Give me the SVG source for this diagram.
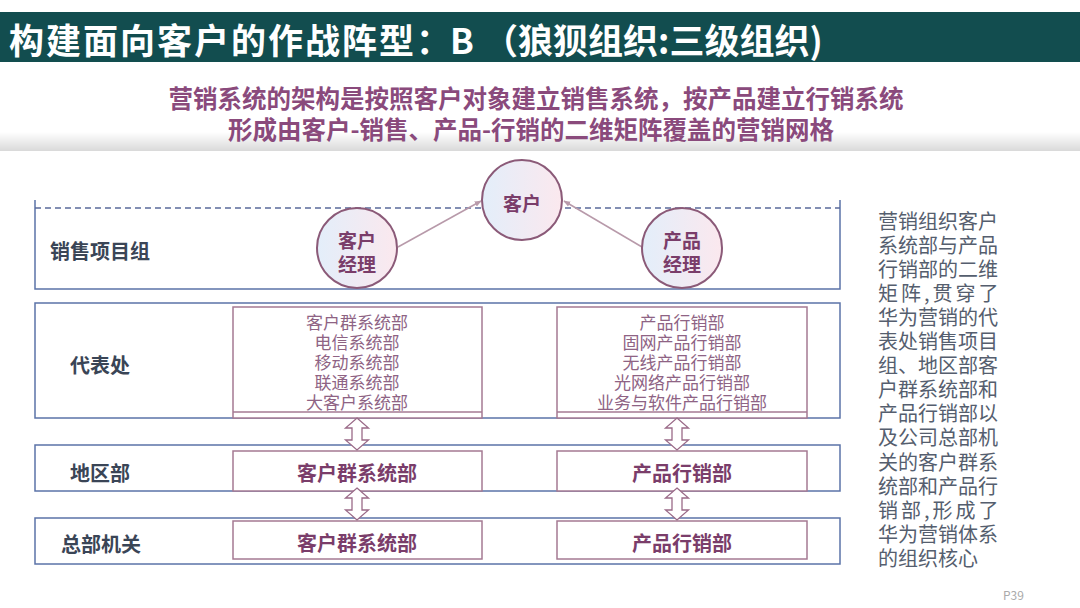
<svg xmlns="http://www.w3.org/2000/svg" width="1080" height="608" viewBox="0 0 1080 608">
<defs>
<linearGradient id="circ" x1="0" y1="0" x2="1" y2="0">
<stop offset="0" stop-color="#e3eefa"/>
<stop offset="1" stop-color="#fbe8ee"/>
</linearGradient>
<linearGradient id="shade" x1="0" y1="0" x2="0" y2="1">
<stop offset="0" stop-color="#ffffff"/>
<stop offset="1" stop-color="#d9d9d9"/>
</linearGradient>
<marker id="ah" viewBox="0 0 10 10" refX="9" refY="5" markerWidth="7" markerHeight="7" orient="auto" markerUnits="userSpaceOnUse">
<path d="M0,1 L10,5 L0,9 Z" fill="#b89aaa"/>
</marker>
<style>
text{font-family:"Noto Sans CJK SC","Noto Sans",sans-serif;dominant-baseline:central}
.title{fill:#ffffff;font-size:35px;font-weight:bold}
.sub{fill:#8a4a7c;font-size:24.5px;font-weight:bold;text-anchor:middle}
.row{fill:none;stroke:#5b73a8;stroke-width:1.5}
.inner{fill:#ffffff;stroke:#a57a93;stroke-width:1.5}
.lab{fill:#3a4556;font-size:20px;font-weight:bold}
.lst{fill:#8e6384;font-size:17px;text-anchor:middle}
.bt{fill:#7a3d6a;font-size:20px;font-weight:bold;text-anchor:middle}
.circ{fill:url(#circ);stroke:#8b5a78;stroke-width:2}
.ct{fill:#7a3d6a;font-size:19px;font-weight:bold;text-anchor:middle}
.dbl{fill:#ffffff;stroke:#9a6a88;stroke-width:1.3}
.link{stroke:#b89aaa;stroke-width:1.5;fill:none;marker-end:url(#ah)}
.para{fill:#555e6e;font-size:20px}
</style>
</defs>
<rect x="0" y="0" width="1080" height="608" fill="#ffffff"/>
<g id="title">
<rect x="0" y="12" width="1080" height="50" fill="#124d4f"/>
<text class="title" y="38"><tspan x="9" letter-spacing="2">构建面向客户的作战阵型</tspan><tspan x="416">：</tspan><tspan x="450">B</tspan><tspan x="483">（狼狈组织:三级组织)</tspan></text>
</g>
<g id="subtitle">
<rect x="0" y="132" width="1080" height="19" fill="url(#shade)"/>
<text class="sub" x="536" y="97">营销系统的架构是按照客户对象建立销售系统，按产品建立行销系统</text>
<text class="sub" x="531" y="128">形成由客户-销售、产品-行销的二维矩阵覆盖的营销网格</text>
</g>
<g id="row-sales">
<path class="row" d="M35,200 V289 H840 V200"/>
<line x1="35" y1="208" x2="840" y2="208" stroke="#5a6a9a" stroke-width="1.3" stroke-dasharray="6 4"/>
<text class="lab" x="50" y="250">销售项目组</text>
</g>
<g id="row-office">
<rect class="row" x="35" y="303" width="805" height="115"/>
<text class="lab" x="70" y="364">代表处</text>
</g>
<g id="office-customer">
<rect class="inner" x="233" y="307" width="249" height="111"/>
<line x1="233" y1="412" x2="482" y2="412" stroke="#a57a93" stroke-width="1.3"/>
<text class="lst"><tspan x="357" y="321">客户群系统部</tspan><tspan x="357" y="341">电信系统部</tspan><tspan x="357" y="361">移动系统部</tspan><tspan x="357" y="381">联通系统部</tspan><tspan x="357" y="401">大客户系统部</tspan></text>
</g>
<g id="office-product">
<rect class="inner" x="557" y="307" width="250" height="111"/>
<line x1="557" y1="412" x2="807" y2="412" stroke="#a57a93" stroke-width="1.3"/>
<text class="lst"><tspan x="682" y="321">产品行销部</tspan><tspan x="682" y="341">固网产品行销部</tspan><tspan x="682" y="361">无线产品行销部</tspan><tspan x="682" y="381">光网络产品行销部</tspan><tspan x="682" y="401">业务与软件产品行销部</tspan></text>
</g>
<g id="row-region">
<rect class="row" x="35" y="445" width="805" height="46"/>
<text class="lab" x="70" y="472">地区部</text>
</g>
<g id="region-customer">
<rect class="inner" x="233" y="451" width="249" height="40"/>
<text class="bt" x="357" y="472">客户群系统部</text>
</g>
<g id="region-product">
<rect class="inner" x="557" y="451" width="250" height="40"/>
<text class="bt" x="682" y="472">产品行销部</text>
</g>
<g id="row-hq">
<rect class="row" x="35" y="518" width="805" height="46"/>
<text class="lab" x="61" y="543">总部机关</text>
</g>
<g id="hq-customer">
<rect class="inner" x="233" y="521" width="249" height="38"/>
<text class="bt" x="357" y="542">客户群系统部</text>
</g>
<g id="hq-product">
<rect class="inner" x="557" y="521" width="250" height="38"/>
<text class="bt" x="682" y="542">产品行销部</text>
</g>
<g id="connectors">
<line class="link" x1="398" y1="247" x2="481" y2="201"/>
<line class="link" x1="642" y1="247" x2="564" y2="201"/>
<path class="dbl" d="M357,418 L368.5,428 L362,428 L362,440 L368.5,440 L357,450 L345.5,440 L352,440 L352,428 L345.5,428 Z"/>
<path class="dbl" d="M357,488 L368.5,498 L362,498 L362,510 L368.5,510 L357,520 L345.5,510 L352,510 L352,498 L345.5,498 Z"/>
<path class="dbl" d="M677,418 L688.5,428 L682,428 L682,440 L688.5,440 L677,450 L665.5,440 L672,440 L672,428 L665.5,428 Z"/>
<path class="dbl" d="M677,488 L688.5,498 L682,498 L682,510 L688.5,510 L677,520 L665.5,510 L672,510 L672,498 L665.5,498 Z"/>
</g>
<g id="node-customer">
<circle class="circ" cx="522" cy="200" r="40"/>
<text class="ct" x="522" y="202" font-size="20">客户</text>
</g>
<g id="node-account-manager">
<circle class="circ" cx="357" cy="248" r="40"/>
<text class="ct"><tspan x="357" y="239">客户</tspan><tspan x="357" y="263">经理</tspan></text>
</g>
<g id="node-product-manager">
<circle class="circ" cx="682" cy="248" r="40"/>
<text class="ct"><tspan x="682" y="239">产品</tspan><tspan x="682" y="263">经理</tspan></text>
</g>
<g id="note">
<text class="para"><tspan x="878" y="220">营销组织客户</tspan><tspan x="878" y="244">系统部与产品</tspan><tspan x="878" y="268">行销部的二维</tspan><tspan x="878" y="292" letter-spacing="3">矩阵,贯穿了</tspan><tspan x="878" y="316">华为营销的代</tspan><tspan x="878" y="340">表处销售项目</tspan><tspan x="878" y="364">组、地区部客</tspan><tspan x="878" y="388">户群系统部和</tspan><tspan x="878" y="412">产品行销部以</tspan><tspan x="878" y="436">及公司总部机</tspan><tspan x="878" y="461">关的客户群系</tspan><tspan x="878" y="485">统部和产品行</tspan><tspan x="878" y="509" letter-spacing="3">销部,形成了</tspan><tspan x="878" y="533">华为营销体系</tspan><tspan x="878" y="557">的组织核心</tspan></text>
</g>
<text x="1003" y="594" fill="#aaaaaa" font-size="12" font-family="Liberation Sans, sans-serif">P39</text>
</svg>
